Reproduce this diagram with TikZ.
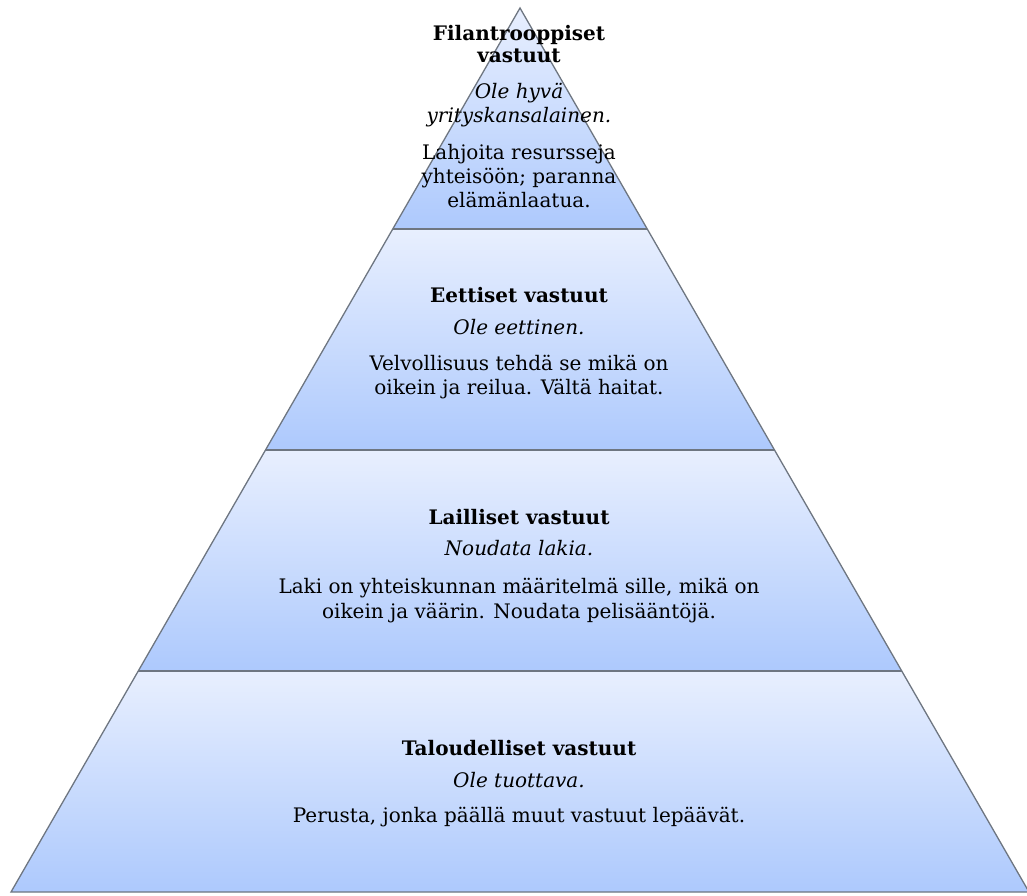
\documentclass[tikz,border=0pt]{standalone}
\usepackage{fontspec}
\setmainfont{DejaVu Serif}
\usetikzlibrary{calc}
\definecolor{bandtop}{HTML}{E8EFFE}
\definecolor{bandbot}{HTML}{ADC9FD}
\definecolor{edgecol}{HTML}{6E7681}
\tikzset{
  band/.style={top color=bandtop,bottom color=bandbot},
  outline/.style={draw=edgecol,line width=1.3pt,line join=miter},
  sepline/.style={draw=edgecol,line width=1.8pt},
  ttl/.style={anchor=base,inner sep=0pt,font=\bfseries\fontsize{20}{24}\selectfont},
  sub/.style={anchor=base,inner sep=0pt,font=\itshape\fontsize{20}{24}\selectfont},
  txt/.style={anchor=base,inner sep=0pt,font=\fontsize{20}{24}\selectfont}
}
\begin{document}
\begin{tikzpicture}[x=1pt,y=-1pt]
\useasboundingbox (0,0) rectangle (1027,895);
\coordinate (A) at (520,8);
\coordinate (BL) at (11,892);
\coordinate (BR) at (1029,892);
\coordinate (L1) at ($(A)!0.25!(BL)$);
\coordinate (R1) at ($(A)!0.25!(BR)$);
\coordinate (L2) at ($(A)!0.5!(BL)$);
\coordinate (R2) at ($(A)!0.5!(BR)$);
\coordinate (L3) at ($(A)!0.75!(BL)$);
\coordinate (R3) at ($(A)!0.75!(BR)$);
% bands
\shade[band] (A) -- (L1) -- (R1) -- cycle;
\shade[band] (L1) -- (L2) -- (R2) -- (R1) -- cycle;
\shade[band] (L2) -- (L3) -- (R3) -- (R2) -- cycle;
\shade[band] (L3) -- (BL) -- (BR) -- (R3) -- cycle;
% outlines
\draw[outline] (A) -- (BL) -- (BR) -- cycle;
\draw[sepline] (L1) -- (R1);
\draw[sepline] (L2) -- (R2);
\draw[sepline] (L3) -- (R3);
% level 1
\node[ttl] (f1) at (519,40) {Filantrooppiset};
\node[ttl] (f2) at (519,62) {vastuut};
\node[sub] (f3) at (519,98) {Ole hyvä};
\node[sub] (f4) at (519,122) {yrityskansalainen.};
\node[txt] (f5) at (519,159) {Lahjoita resursseja};
\node[txt] (f6) at (519,183) {yhteisöön; paranna};
\node[txt] (f7) at (519,207) {elämänlaatua.};
% level 2
\node[ttl] (e1) at (519,302) {Eettiset vastuut};
\node[sub] (e2) at (519,334) {Ole eettinen.};
\node[txt] (e3) at (519,370) {Velvollisuus tehdä se mikä on};
\node[txt] (e4) at (519,394) {oikein ja reilua. Vältä haitat.};
% level 3
\node[ttl] (l1) at (519,524) {Lailliset vastuut};
\node[sub] (l2) at (519,555) {Noudata lakia.};
\node[txt] (l3) at (519,593) {Laki on yhteiskunnan määritelmä sille, mikä on};
\node[txt] (l4) at (519,618) {oikein ja väärin. Noudata pelisääntöjä.};
% level 4
\node[ttl] (t1) at (519,755) {Taloudelliset vastuut};
\node[sub] (t2) at (519,787) {Ole tuottava.};
\node[txt] (t3) at (519,822) {Perusta, jonka päällä muut vastuut lepäävät.};
\end{tikzpicture}
\end{document}
